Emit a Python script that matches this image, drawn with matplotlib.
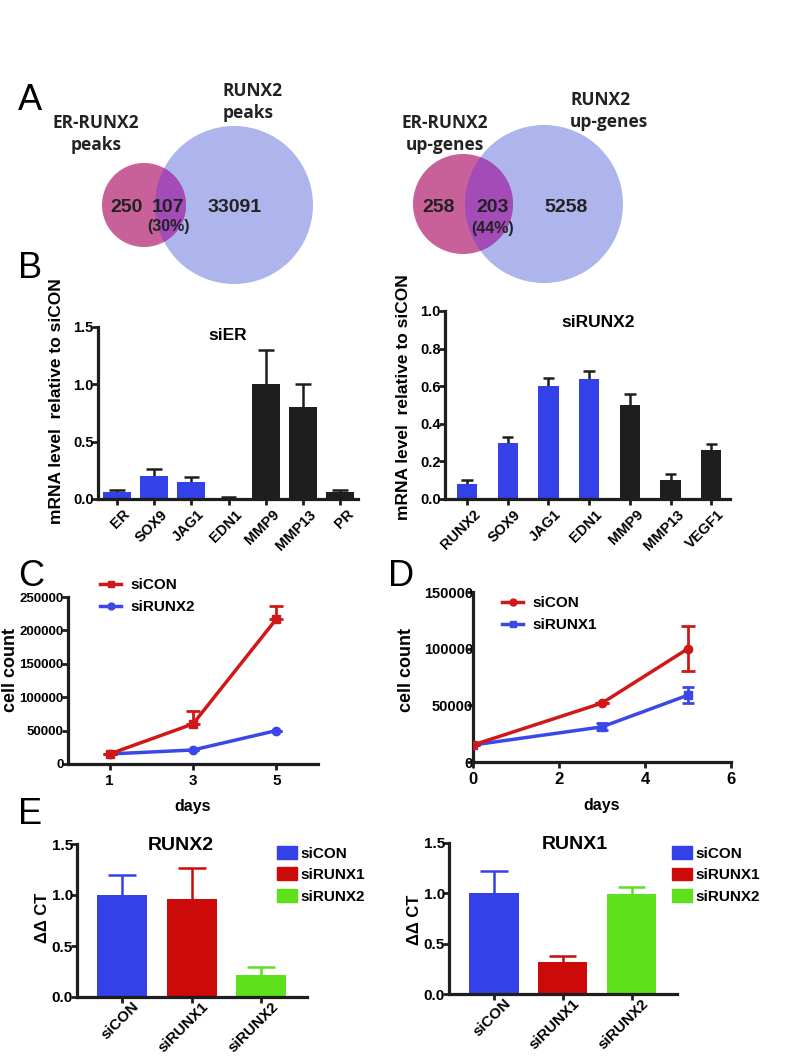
import matplotlib
matplotlib.use("Agg")
import matplotlib.pyplot as plt
from matplotlib.patches import Circle, Patch
from matplotlib.lines import Line2D
from matplotlib.transforms import ScaledTranslation
import numpy as np

plt.rcParams['font.family'] = ['Liberation Sans', 'DejaVu Sans']
plt.rcParams['font.weight'] = 'bold'

# ---------------- DATA ----------------
# Panel A (Venn counts)
venn1_labels = ["ER-RUNX2\npeaks", "RUNX2\npeaks"]
venn1_counts = [250, 107, 33091]
venn1_pct = "(30%)"
venn2_labels = ["ER-RUNX2\nup-genes", "RUNX2\nup-genes"]
venn2_counts = [258, 203, 5258]
venn2_pct = "(44%)"

# Panel B
siER_genes = ["ER", "SOX9", "JAG1", "EDN1", "MMP9", "MMP13", "PR"]
siER_vals = [0.06, 0.20, 0.15, 0.01, 1.00, 0.80, 0.06]
siER_err = [0.02, 0.06, 0.04, 0.005, 0.30, 0.20, 0.015]
siER_blue = [True, True, True, True, False, False, False]

siRUNX2_genes = ["RUNX2", "SOX9", "JAG1", "EDN1", "MMP9", "MMP13", "VEGF1"]
siRUNX2_vals = [0.08, 0.30, 0.60, 0.64, 0.50, 0.10, 0.26]
siRUNX2_err = [0.02, 0.03, 0.045, 0.04, 0.06, 0.035, 0.03]
siRUNX2_blue = [True, True, True, True, False, False, False]

# Panel C
c_days = [1, 3, 5]
c_sicon = [15000, 60000, 217000]
c_sicon_err = [0, 20000, 20000]
c_sirunx2 = [15000, 21000, 50000]
c_sirunx2_err = [0, 0, 0]

# Panel D
d_days = [0, 3, 5]
d_sicon = [15000, 52000, 100000]
d_sicon_err = [0, 0, 20000]
d_sirunx1 = [15000, 31000, 59000]
d_sirunx1_err = [0, 3000, 7000]

# Panel E
e_groups = ["siCON", "siRUNX1", "siRUNX2"]
e_runx2_vals = [1.00, 0.96, 0.22]
e_runx2_err = [0.20, 0.30, 0.07]
e_runx1_vals = [1.00, 0.32, 0.99]
e_runx1_err = [0.22, 0.06, 0.07]

# ---------------- STYLE ----------------
BLUE = '#3440e8'
BLACK = '#1e1e1e'
RED = '#cc0a0a'
LRED = '#d01818'
LBLUE = '#3a48e8'
GREEN = '#5ee01c'
PINK = '#c8609a'
PURPLE = '#a34cb8'
LIGHTBLUE = '#adb5ec'
TXT = '#222222'
VFONT = ['Open Sans', 'Liberation Sans', 'DejaVu Sans']
NFONT = ['Liberation Sans', 'DejaVu Sans']

W, H = 793, 1056
fig = plt.figure(figsize=(W / 100, H / 100), dpi=100)


def ax_px(x0, x1, y0, y1):
    return fig.add_axes([x0 / W, 1 - y1 / H, (x1 - x0) / W, (y1 - y0) / H])


def style(ax, ysize=10.5, xsize=10):
    for s in ['top', 'right']:
        ax.spines[s].set_visible(False)
    for s in ['left', 'bottom']:
        ax.spines[s].set_linewidth(2.3)
        ax.spines[s].set_color(BLACK)
    ax.tick_params(direction='out', length=4, width=2.0, color=BLACK)
    ax.tick_params(axis='y', labelsize=ysize, pad=-1)
    ax.tick_params(axis='x', labelsize=xsize, pad=2)
    for lab in ax.get_yticklabels() + ax.get_xticklabels():
        lab.set_fontweight('bold')


def shift_xlabels(ax, dx, dy):
    off = ScaledTranslation(dx / 100, dy / 100, fig.dpi_scale_trans)
    for lab in ax.get_xticklabels():
        lab.set_transform(lab.get_transform() + off)


# ---------------- Panel A: Venn ----------------
axv = fig.add_axes([0, 0, 1, 1])
axv.set_xlim(0, W)
axv.set_ylim(H, 0)
axv.axis('off')
axv.set_zorder(-1)


def venn(c_small, r_small, c_big, r_big, counts, pct, labels, pos):
    big = Circle(c_big, r_big, color=LIGHTBLUE, lw=0)
    axv.add_patch(big)
    axv.add_patch(Circle(c_small, r_small, color=PINK, lw=0))
    inter = Circle(c_small, r_small, color=PURPLE, lw=0)
    axv.add_patch(inter)
    inter.set_clip_path(big)
    for (x, y), n in zip(pos[:3], counts):
        axv.text(x, y, str(n), ha='center', va='center', fontsize=14,
                 color=TXT, fontweight='bold', family=NFONT)
    axv.text(pos[3][0], pos[3][1], pct, ha='center', va='center', fontsize=11.5,
             color=TXT, fontweight='bold', family=NFONT)
    axv.text(pos[4][0], pos[4][1], labels[0], ha='center', va='center', fontsize=12.5,
             color=TXT, fontweight='bold', linespacing=1.3, family=VFONT)
    axv.text(pos[5][0], pos[5][1], labels[1], ha='left', va='center', fontsize=12.5,
             color=TXT, fontweight='bold', linespacing=1.3, family=VFONT)


venn((144, 205), 42, (234, 205), 79, venn1_counts, venn1_pct, venn1_labels,
     [(127, 207), (168, 207), (235, 207), (169, 226), (96, 134), (223, 102)])
venn((463, 204), 50, (544, 204), 79, venn2_counts, venn2_pct, venn2_labels,
     [(439, 207), (493, 207), (566, 207), (493, 229), (445, 134), (570, 111)])

# Panel letters
for letter, (x, y) in zip("ABCDE", [(18, 100), (18, 268), (18, 577), (388, 577), (18, 815)]):
    fig.text(x / W, 1 - y / H, letter, fontsize=26, fontweight='normal',
             ha='left', va='center', color='black')


# ---------------- Panel B ----------------
def bar_panel(ax, genes, vals, errs, isblue, width, ylim, yticks, title, tpos, ylabpos, xs):
    x = np.arange(len(genes))
    cols = [BLUE if b else BLACK for b in isblue]
    ax.bar(x, vals, width=width, color=cols, zorder=2)
    for xi, v, e in zip(x, vals, errs):
        ax.vlines(xi, v, v + e, color=BLACK, lw=1.8, zorder=1)
        ax.hlines(v + e, xi - width * 0.28, xi + width * 0.28, color=BLACK, lw=1.8, zorder=1)
    ax.set_ylim(*ylim)
    ax.set_yticks(yticks)
    ax.set_yticklabels([f"{t:.1f}" for t in yticks])
    ax.set_xticks(x)
    ax.set_xticklabels(genes, rotation=45, ha='right', rotation_mode='anchor')
    style(ax, 10.5, xs)
    shift_xlabels(ax, 6, 0)
    ax.set_title(title, fontsize=12.5, fontweight='bold', x=tpos[0], y=tpos[1],
                 va='center', pad=0)
    ax.set_ylabel("mRNA level  relative to siCON", fontsize=12.5, fontweight='bold')
    ax.yaxis.set_label_coords(*ylabpos)


axB1 = ax_px(98, 358, 327, 499)
bar_panel(axB1, siER_genes, siER_vals, siER_err, siER_blue, 0.75, (0, 1.5),
          [0.0, 0.5, 1.0, 1.5], "siER", (0.50, 0.95), (-0.13, 0.57), 10.5)
axB1.set_xlim(-0.51, 6.48)

axB2 = ax_px(445, 730, 311, 499)
bar_panel(axB2, siRUNX2_genes, siRUNX2_vals, siRUNX2_err, siRUNX2_blue, 0.5, (0, 1.0),
          [0.0, 0.2, 0.4, 0.6, 0.8, 1.0], "siRUNX2", (0.537, 0.94), (-0.12, 0.54), 10.5)
axB2.set_xlim(-0.54, 6.46)


# ---------------- Panels C, D ----------------
def line_panel(ax, days, s1, e1, s2, e2, m1, m2, labs, xlim, xticks, ylim, yticks,
               legpos, ylabpos, sym1, ys, xs):
    lo1 = e1 if sym1 else [0] * len(e1)
    ax.errorbar(days, s1, yerr=[lo1, e1], color=LRED, lw=2.5, marker=m1, ms=6,
                capsize=5, capthick=2, elinewidth=2, zorder=3)
    ax.errorbar(days, s2, yerr=[e2, e2], color=LBLUE, lw=2.5, marker=m2, ms=6,
                capsize=4, capthick=2, elinewidth=2, zorder=2)
    ax.set_xlim(*xlim)
    ax.set_xticks(xticks)
    ax.set_ylim(*ylim)
    ax.set_yticks(yticks)
    style(ax, ys, xs)
    ax.tick_params(axis='x', pad=3)
    ax.set_xlabel("days", fontsize=11.5, fontweight='bold')
    ax.xaxis.set_label_coords(0.5, -0.21)
    ax.set_ylabel("cell count", fontsize=13, fontweight='bold')
    ax.yaxis.set_label_coords(*ylabpos)
    handles = [Line2D([], [], color=LRED, lw=2.5, marker=m1, ms=5),
               Line2D([], [], color=LBLUE, lw=2.5, marker=m2, ms=5)]
    ax.legend(handles, labs, loc='upper left', bbox_to_anchor=legpos, frameon=False,
              prop={'weight': 'bold', 'size': 11}, handlelength=1.4,
              handletextpad=0.6, labelspacing=0.55, borderaxespad=0, borderpad=0)


axC = ax_px(68, 318, 597, 764)
line_panel(axC, c_days, c_sicon, c_sicon_err, c_sirunx2, c_sirunx2_err, 's', 'o',
           ["siCON", "siRUNX2"], (0, 6), [1, 3, 5], (0, 250000),
           [0, 50000, 100000, 150000, 200000, 250000], (0.128, 1.114), (-0.195, 0.56), False,
           9.5, 11)

axD = ax_px(473, 731, 592, 762)
line_panel(axD, d_days, d_sicon, d_sicon_err, d_sirunx1, d_sirunx1_err, 'o', 's',
           ["siCON", "siRUNX1"], (0, 6), [0, 2, 4, 6], (0, 150000),
           [0, 50000, 100000, 150000], (0.112, 0.976), (-0.225, 0.54), True,
           10.5, 12)
axD.tick_params(axis='y', pad=-4)


# ---------------- Panel E ----------------
def e_panel(ax, vals, errs, title, tx, ylabpos, legpos):
    x = np.arange(len(e_groups))
    cols = [BLUE, RED, GREEN]
    ax.bar(x, vals, width=0.72, color=cols, zorder=2)
    for xi, v, e, c in zip(x, vals, errs, cols):
        ax.vlines(xi, v, v + e, color=c, lw=1.8, zorder=1)
        ax.hlines(v + e, xi - 0.2, xi + 0.2, color=c, lw=1.8, zorder=1)
    ax.set_xlim(-0.65, 2.66)
    ax.set_ylim(0, 1.5)
    ax.set_yticks([0.0, 0.5, 1.0, 1.5])
    ax.set_yticklabels(["0.0", "0.5", "1.0", "1.5"])
    ax.set_xticks(x)
    ax.set_xticklabels(e_groups, rotation=45, ha='right', rotation_mode='anchor')
    style(ax, 11, 11)
    shift_xlabels(ax, 10, 6)
    ax.set_title(title, fontsize=14, fontweight='bold', x=tx, y=0.99, va='center', pad=0)
    ax.set_ylabel("ΔΔ CT", fontsize=12, fontweight='bold')
    ax.yaxis.set_label_coords(*ylabpos)
    handles = [Patch(color=c) for c in cols]
    ax.legend(handles, e_groups, loc='upper left', bbox_to_anchor=legpos, frameon=False,
              prop={'weight': 'bold', 'size': 11}, handlelength=1.3, handleheight=0.9,
              handletextpad=0.25, labelspacing=0.45, borderaxespad=0, borderpad=0)


axE1 = ax_px(77, 307, 844, 997)
e_panel(axE1, e_runx2_vals, e_runx2_err, "RUNX2", 0.45, (-0.117, 0.52), (0.87, 0.987))

axE2 = ax_px(449, 677, 843, 994)
e_panel(axE2, e_runx1_vals, e_runx1_err, "RUNX1", 0.55, (-0.118, 0.49), (0.978, 0.98))

fig.savefig("out.png", dpi=100)
